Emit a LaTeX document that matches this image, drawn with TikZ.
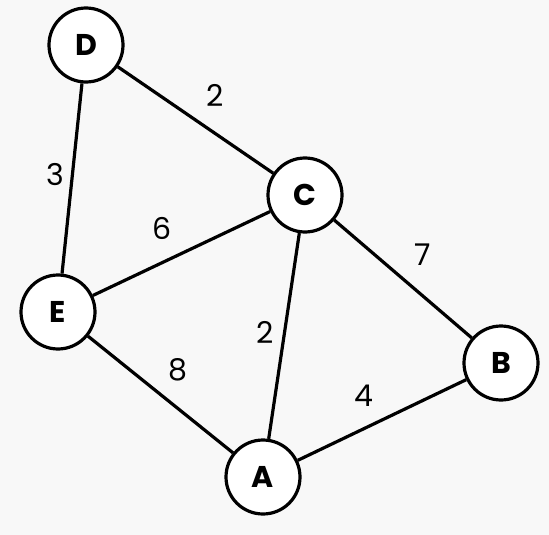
\documentclass[tikz,border=0pt]{standalone}
\usepackage{fontspec}
\setmainfont{Poppins}
\usetikzlibrary{shapes.geometric}
\definecolor{paper}{HTML}{F8F8F8}
\tikzstyle{vertex} = [circle, minimum size=74pt, inner sep=0pt, line width=3.2pt, draw=black, fill=white, font=\fontsize{30}{32}\selectfont\bfseries]
\tikzstyle{weight} = [inner sep=1pt, font=\fontsize{30}{32}\selectfont]
\tikzstyle{edge} = [line width=3.2pt]

\begin{document}
\begin{tikzpicture}[x=1pt, y=-1pt]

\fill [paper] (0,0) rectangle (549,535);
\useasboundingbox (0,0) rectangle (549,535);

\node at (86, 45) (D) [vertex] {D};
\node at (305, 195) (C) [vertex] {C};
\node at (58, 312) (E) [vertex] {E};
\node at (501, 363) (B) [vertex] {B};
\node at (263, 477) (A) [vertex] {A};

\draw [edge] (D) -- (C);
\draw [edge] (D) -- (E);
\draw [edge] (E) -- (C);
\draw [edge] (C) -- (B);
\draw [edge] (C) -- (A);
\draw [edge] (E) -- (A);
\draw [edge] (A) -- (B);

\node at (215, 95) (wDC) [weight] {2};
\node at (55, 175) (wDE) [weight] {3};
\node at (162, 228) (wEC) [weight] {6};
\node at (423, 255) (wCB) [weight] {7};
\node at (265, 332) (wCA) [weight] {2};
\node at (178, 370) (wEA) [weight] {8};
\node at (364, 396) (wAB) [weight] {4};

\end{tikzpicture}
\end{document}
